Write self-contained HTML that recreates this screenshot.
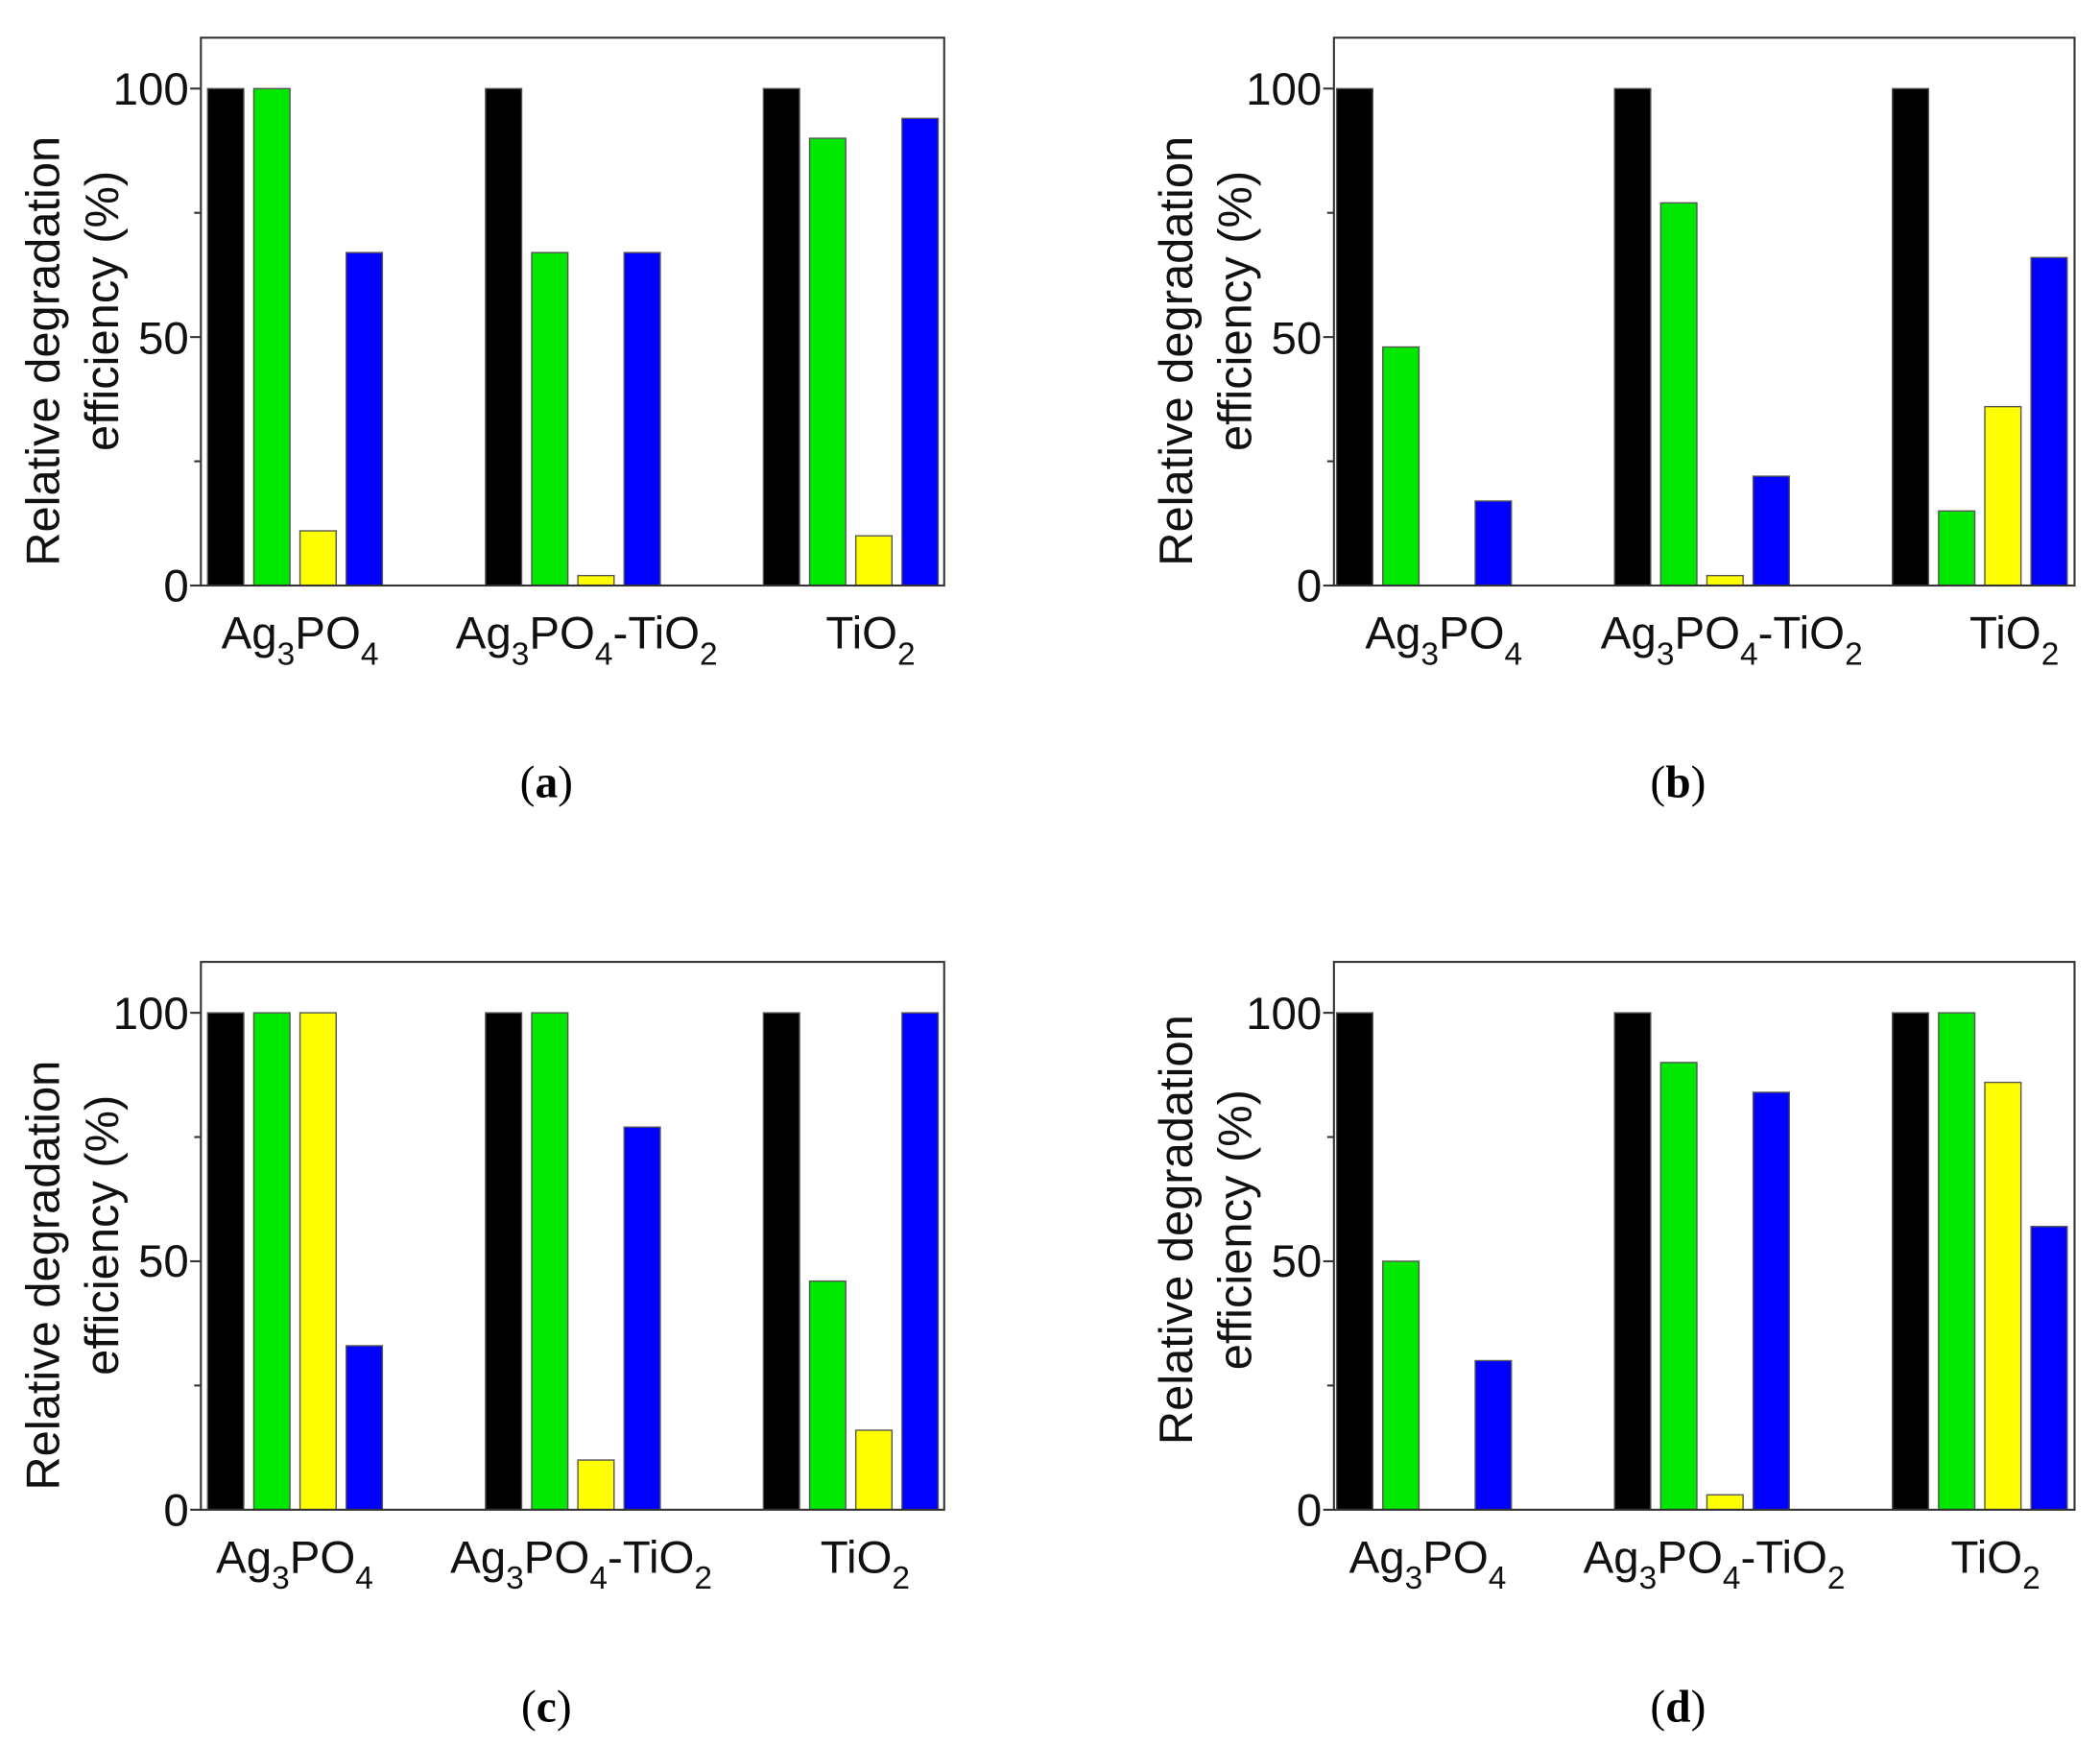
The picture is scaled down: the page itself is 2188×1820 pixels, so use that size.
<!DOCTYPE html>
<html><head><meta charset="utf-8"><style>
html,body{margin:0;padding:0;background:#fff}
svg{display:block}
.t{font-family:"Liberation Sans",Arial,sans-serif;fill:#111}
.tk{font-size:34px}
.yl{font-size:35px}
.xl{font-size:34px}
.sub{font-size:24px}
.cap{font-family:"Liberation Serif",serif;font-size:34px;fill:#000}
</style></head><body>
<svg id="s" width="2188" height="1820" viewBox="0 0 1568 1304" xmlns="http://www.w3.org/2000/svg">
<g id="bars"></g>
<!-- panel a -->
<g class="t">
<text class="tk" x="141" y="78" text-anchor="end">100</text>
<text class="tk" x="141" y="264" text-anchor="end">50</text>
<text class="tk" x="141" y="449" text-anchor="end">0</text>
<text class="yl" transform="translate(44,262) rotate(-90)" text-anchor="middle">Relative degradation</text>
<text class="yl" transform="translate(88,232) rotate(-90)" text-anchor="middle">efficiency (%)</text>
<text class="xl" x="224" y="484" text-anchor="middle">Ag<tspan class="sub" dy="12">3</tspan><tspan dy="-12">PO</tspan><tspan class="sub" dy="12">4</tspan></text>
<text class="xl" x="438" y="484" text-anchor="middle">Ag<tspan class="sub" dy="12">3</tspan><tspan dy="-12">PO</tspan><tspan class="sub" dy="12">4</tspan><tspan dy="-12">-TiO</tspan><tspan class="sub" dy="12">2</tspan></text>
<text class="xl" x="650" y="484" text-anchor="middle">TiO<tspan class="sub" dy="12">2</tspan></text>
</g>
<text class="cap" x="408" y="595" text-anchor="middle">(<tspan font-weight="bold">a</tspan>)</text>
<!-- panel b -->
<g class="t">
<text class="tk" x="987" y="78" text-anchor="end">100</text>
<text class="tk" x="987" y="264" text-anchor="end">50</text>
<text class="tk" x="987" y="449" text-anchor="end">0</text>
<text class="yl" transform="translate(890,262) rotate(-90)" text-anchor="middle">Relative degradation</text>
<text class="yl" transform="translate(934,232) rotate(-90)" text-anchor="middle">efficiency (%)</text>
<text class="xl" x="1078" y="484" text-anchor="middle">Ag<tspan class="sub" dy="12">3</tspan><tspan dy="-12">PO</tspan><tspan class="sub" dy="12">4</tspan></text>
<text class="xl" x="1293" y="484" text-anchor="middle">Ag<tspan class="sub" dy="12">3</tspan><tspan dy="-12">PO</tspan><tspan class="sub" dy="12">4</tspan><tspan dy="-12">-TiO</tspan><tspan class="sub" dy="12">2</tspan></text>
<text class="xl" x="1504" y="484" text-anchor="middle">TiO<tspan class="sub" dy="12">2</tspan></text>
</g>
<text class="cap" x="1253" y="595" text-anchor="middle">(<tspan font-weight="bold">b</tspan>)</text>
<!-- panel c -->
<g class="t">
<text class="tk" x="141" y="768" text-anchor="end">100</text>
<text class="tk" x="141" y="953" text-anchor="end">50</text>
<text class="tk" x="141" y="1139" text-anchor="end">0</text>
<text class="yl" transform="translate(44,952) rotate(-90)" text-anchor="middle">Relative degradation</text>
<text class="yl" transform="translate(88,922) rotate(-90)" text-anchor="middle">efficiency (%)</text>
<text class="xl" x="220" y="1174" text-anchor="middle">Ag<tspan class="sub" dy="12">3</tspan><tspan dy="-12">PO</tspan><tspan class="sub" dy="12">4</tspan></text>
<text class="xl" x="434" y="1174" text-anchor="middle">Ag<tspan class="sub" dy="12">3</tspan><tspan dy="-12">PO</tspan><tspan class="sub" dy="12">4</tspan><tspan dy="-12">-TiO</tspan><tspan class="sub" dy="12">2</tspan></text>
<text class="xl" x="646" y="1174" text-anchor="middle">TiO<tspan class="sub" dy="12">2</tspan></text>
</g>
<text class="cap" x="408" y="1285" text-anchor="middle">(<tspan font-weight="bold">c</tspan>)</text>
<!-- panel d -->
<g class="t">
<text class="tk" x="987" y="768" text-anchor="end">100</text>
<text class="tk" x="987" y="953" text-anchor="end">50</text>
<text class="tk" x="987" y="1139" text-anchor="end">0</text>
<text class="yl" transform="translate(890,918) rotate(-90)" text-anchor="middle">Relative degradation</text>
<text class="yl" transform="translate(934,918) rotate(-90)" text-anchor="middle">efficiency (%)</text>
<text class="xl" x="1066" y="1174" text-anchor="middle">Ag<tspan class="sub" dy="12">3</tspan><tspan dy="-12">PO</tspan><tspan class="sub" dy="12">4</tspan></text>
<text class="xl" x="1280" y="1174" text-anchor="middle">Ag<tspan class="sub" dy="12">3</tspan><tspan dy="-12">PO</tspan><tspan class="sub" dy="12">4</tspan><tspan dy="-12">-TiO</tspan><tspan class="sub" dy="12">2</tspan></text>
<text class="xl" x="1490" y="1174" text-anchor="middle">TiO<tspan class="sub" dy="12">2</tspan></text>
</g>
<text class="cap" x="1253" y="1285" text-anchor="middle">(<tspan font-weight="bold">d</tspan>)</text>
</svg>
<script>
var NS="http://www.w3.org/2000/svg",g=document.getElementById("bars");
function el(n,a){var e=document.createElementNS(NS,n);for(var k in a)e.setAttribute(k,a[k]);g.appendChild(e);}
var cols=["#000000","#00e800","#ffff00","#0000ff"];
var panels=[
 {x0:150,x1:705,top:28,bot:437,y100:66,off:5,d:[[100,100,11,67],[100,67,2,67],[100,90,10,94]]},
 {x0:996,x1:1549,top:28,bot:437,y100:66,off:2,d:[[100,48,0,17],[100,77,2,22],[100,15,36,66]]},
 {x0:150,x1:705,top:718,bot:1127,y100:756,off:5,d:[[100,100,100,33],[100,100,10,77],[100,46,16,100]]},
 {x0:996,x1:1549,top:718,bot:1127,y100:756,off:2,d:[[100,50,0,30],[100,90,3,84],[100,100,86,57]]}];
panels.forEach(function(p){
 var h=p.bot-p.y100;
 p.d.forEach(function(gr,gi){
  gr.forEach(function(v,bi){
   if(v<=0)return;
   var x=p.x0+p.off+gi*207.5+bi*34.5, y=p.bot-v/100*h;
   el("rect",{x:x,y:y,width:27,height:p.bot-y,fill:cols[bi],stroke:"#555","stroke-width":1});
  });
 });
 el("rect",{x:p.x0,y:p.top,width:p.x1-p.x0,height:p.bot-p.top,fill:"none",stroke:"#333","stroke-width":1.5});
 [0,25,50,75,100].forEach(function(v){
  var y=p.bot-v/100*h, L=(v%50==0)?8:5;
  el("line",{x1:p.x0-L,x2:p.x0,y1:y,y2:y,stroke:"#333","stroke-width":1.5});
 });
});
</script>
</body></html>
